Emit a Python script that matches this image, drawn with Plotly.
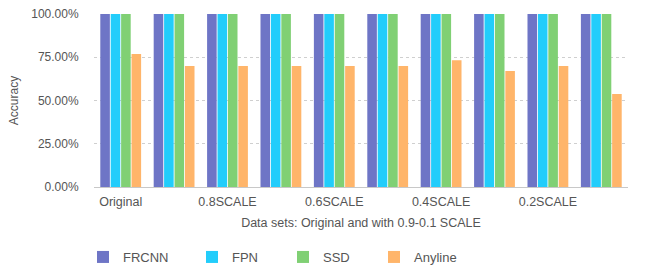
import plotly.graph_objects as go

categories = ["Original", "0.9SCALE", "0.8SCALE", "0.7SCALE", "0.6SCALE",
              "0.5SCALE", "0.4SCALE", "0.3SCALE", "0.2SCALE", "0.1SCALE"]
frcnn = [1.0] * 10
fpn = [1.0] * 10
ssd = [1.0] * 10
anyline = [0.769, 0.70, 0.70, 0.70, 0.70, 0.70, 0.733, 0.67, 0.70, 0.538]
series_names = ["FRCNN", "FPN", "SSD", "Anyline"]
colors = ["#6e75c6", "#22cdfb", "#80d074", "#ffb56a"]
tick_labels = ["Original", "0.8SCALE", "0.6SCALE", "0.4SCALE", "0.2SCALE"]
tick_positions = ["Original", "0.8SCALE", "0.6SCALE", "0.4SCALE", "0.2SCALE"]

FONT = "Liberation Sans, Arial, Helvetica, sans-serif"
TXT = "#555555"

fig = go.Figure()
legend_ids = ["legend", "legend2", "legend3", "legend4"]
for name, vals, col, lid in zip(series_names, [frcnn, fpn, ssd, anyline], colors, legend_ids):
    fig.add_trace(go.Bar(x=categories, y=vals, name=name, marker_color=col,
                         marker_line_width=0, legend=lid))

legend_px = [83, 192, 283, 374]
W, H = 645, 273
legend_common = dict(orientation="h", yref="container", xref="container",
                     yanchor="middle", y=1 - 257 / H, xanchor="left",
                     font=dict(family=FONT, size=13, color=TXT),
                     bgcolor="rgba(0,0,0,0)", borderwidth=0)
layout_legends = {}
for lid, px in zip(legend_ids, legend_px):
    layout_legends[lid] = dict(legend_common, x=px / W)

fig.update_layout(
    width=W, height=H,
    margin=dict(l=94, r=17, t=14, b=86, autoexpand=False),
    plot_bgcolor="white", paper_bgcolor="white",
    barmode="group", bargap=0.22, bargroupgap=0.08,
    font=dict(family=FONT, size=12, color=TXT),
    showlegend=True,
    **layout_legends,
    xaxis=dict(
        tickmode="array", tickvals=tick_positions, ticktext=tick_labels,
        showgrid=False, showline=True, linecolor="#c8c8c8", linewidth=1,
        ticks="outside", ticklen=3, tickcolor="rgba(0,0,0,0)",
        tickfont=dict(family=FONT, size=12.5, color=TXT),
        title=dict(text="Data sets: Original and with 0.9-0.1 SCALE",
                   font=dict(family=FONT, size=12.5, color=TXT), standoff=10),
    ),
    yaxis=dict(
        range=[0, 1], tickvals=[0, 0.25, 0.5, 0.75, 1.0], tickformat=".2%",
        showgrid=True, gridcolor="#cfcfcf", griddash="dot", gridwidth=1,
        zeroline=False, showline=False,
        ticks="outside", ticklen=12, tickcolor="rgba(0,0,0,0)",
        tickfont=dict(family=FONT, size=12, color=TXT),
        title=dict(text="Accuracy", font=dict(family=FONT, size=12, color=TXT), standoff=10),
    ),
)

fig.write_html("out.html", config={"displayModeBar": False},
               post_script="document.body.style.margin='0px';")
